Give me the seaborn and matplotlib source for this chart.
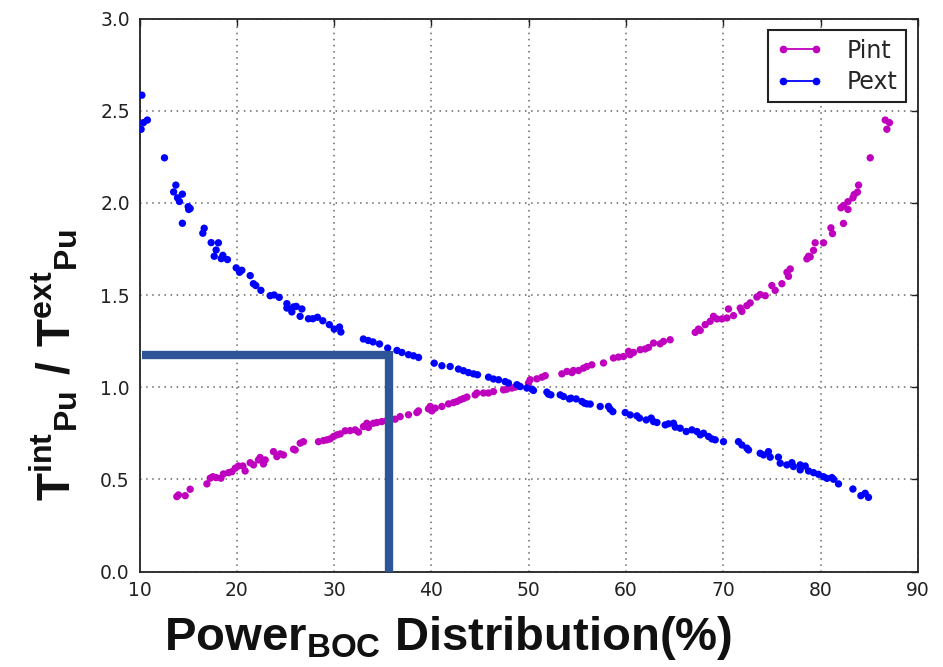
import numpy as np
import pandas as pd
import seaborn as sns
import matplotlib
matplotlib.use("Agg")
import matplotlib.pyplot as plt
from matplotlib.lines import Line2D
from matplotlib import font_manager as fm

# ---------------- data ----------------
pint_x = [13.83, 14.00, 14.69, 15.20, 16.92, 17.26, 17.53, 17.87, 18.36, 18.62, 19.14, 19.49,
          19.83, 20.16, 20.62, 20.85, 21.37, 21.71, 22.22, 22.39, 22.73, 22.91, 23.76, 24.11,
          24.45, 24.79, 25.82, 25.99, 26.51, 26.84, 28.39, 28.90, 29.25, 29.59, 29.93, 30.28,
          30.62, 31.13, 31.64, 32.16, 32.50, 33.01, 33.36, 33.52, 34.04, 34.39, 34.90, 35.42,
          36.27, 36.78, 37.64, 38.50, 38.66, 39.69, 39.87, 40.04, 40.38, 41.07, 41.75, 42.26,
          42.61, 42.95, 43.29, 43.64, 44.49, 44.67, 45.34, 45.86, 46.37, 47.40, 47.75, 48.26,
          48.60, 48.94, 49.97, 50.14, 50.83, 51.35, 51.69, 53.40, 53.92, 54.43, 54.59, 55.11,
          55.62, 55.97, 56.48, 57.68, 58.70, 59.22, 59.73, 60.25, 60.42, 60.76, 61.45, 61.96,
          62.30, 62.82, 63.50, 63.84, 64.53, 67.10, 67.44, 67.62, 68.13, 68.64, 68.98, 69.33,
          69.85, 70.36, 70.52, 71.04, 71.73, 71.90, 72.41, 72.75, 73.44, 73.78, 74.30, 74.98,
          75.32, 76.01, 76.53, 76.69, 76.87, 78.58, 78.75, 78.92, 79.26, 79.43, 80.29, 81.05,
          81.21, 82.08, 82.34, 82.34, 82.80, 82.80, 83.31, 83.44, 83.78, 83.89, 85.09, 86.63,
          86.80, 87.07]
pint_y = [0.407, 0.416, 0.412, 0.447, 0.476, 0.507, 0.515, 0.510, 0.507, 0.530, 0.537, 0.542,
          0.561, 0.573, 0.573, 0.546, 0.591, 0.579, 0.606, 0.619, 0.584, 0.606, 0.651, 0.624,
          0.639, 0.633, 0.664, 0.660, 0.697, 0.705, 0.705, 0.711, 0.715, 0.720, 0.733, 0.742,
          0.747, 0.764, 0.765, 0.769, 0.757, 0.787, 0.805, 0.782, 0.805, 0.809, 0.814, 0.820,
          0.827, 0.841, 0.851, 0.863, 0.872, 0.883, 0.896, 0.872, 0.887, 0.896, 0.910, 0.917,
          0.923, 0.932, 0.939, 0.947, 0.959, 0.969, 0.969, 0.969, 0.977, 0.986, 0.990, 0.996,
          1.001, 1.008, 1.023, 1.041, 1.046, 1.055, 1.063, 1.073, 1.086, 1.080, 1.091, 1.091,
          1.104, 1.113, 1.122, 1.132, 1.159, 1.164, 1.167, 1.195, 1.177, 1.189, 1.204, 1.208,
          1.216, 1.240, 1.236, 1.249, 1.258, 1.298, 1.316, 1.309, 1.340, 1.358, 1.385, 1.371,
          1.371, 1.376, 1.425, 1.389, 1.430, 1.412, 1.443, 1.458, 1.490, 1.503, 1.497, 1.552,
          1.526, 1.562, 1.624, 1.602, 1.642, 1.697, 1.711, 1.708, 1.743, 1.784, 1.784, 1.865,
          1.834, 1.974, 1.986, 1.889, 1.965, 2.007, 2.028, 2.046, 2.059, 2.097, 2.245, 2.450,
          2.400, 2.436]

pext_x = [10.16, 10.24, 10.40, 10.80, 12.56, 13.50, 13.73, 13.90, 14.10, 14.40, 14.40, 15.00,
          15.05, 15.20, 16.50, 16.64, 17.36, 17.67, 17.87, 18.10, 18.39, 18.56, 19.03, 19.93,
          20.27, 20.51, 21.37, 21.70, 21.95, 22.47, 23.42, 23.83, 24.35, 25.14, 25.14, 25.65,
          25.82, 26.10, 26.50, 26.68, 27.36, 27.80, 28.28, 28.83, 29.50, 30.00, 30.55, 30.69,
          33.00, 33.50, 34.00, 34.66, 35.50, 36.45, 36.96, 37.64, 38.15, 38.67, 40.28, 41.07,
          41.92, 42.77, 43.29, 43.80, 44.32, 44.73, 45.86, 46.37, 46.89, 47.57, 47.91, 48.78,
          49.12, 49.80, 50.32, 50.48, 51.86, 52.02, 52.27, 53.23, 53.57, 54.18, 54.33, 54.87,
          55.46, 55.72, 55.97, 56.31, 57.34, 58.19, 58.37, 58.64, 59.91, 60.42, 61.11, 61.38,
          62.07, 62.58, 62.82, 63.17, 64.02, 64.36, 64.87, 65.05, 65.56, 66.18, 66.76, 67.28,
          67.62, 67.96, 68.47, 68.82, 69.16, 70.01, 71.55, 71.90, 72.41, 72.58, 73.78, 74.12,
          74.63, 74.81, 75.66, 75.84, 76.52, 77.04, 77.20, 77.89, 77.89, 78.41, 78.75, 79.26,
          79.77, 80.29, 80.64, 81.15, 81.32, 81.83, 83.31, 84.13, 84.57, 84.91]
pext_y = [2.400, 2.585, 2.436, 2.450, 2.245, 2.060, 2.097, 2.028, 2.008, 2.048, 1.890, 1.980,
          1.965, 1.970, 1.836, 1.863, 1.785, 1.711, 1.745, 1.784, 1.698, 1.716, 1.693, 1.648,
          1.624, 1.635, 1.606, 1.562, 1.552, 1.526, 1.497, 1.501, 1.488, 1.454, 1.430, 1.409,
          1.436, 1.439, 1.385, 1.425, 1.372, 1.372, 1.380, 1.361, 1.340, 1.316, 1.327, 1.300,
          1.262, 1.254, 1.246, 1.235, 1.213, 1.200, 1.189, 1.177, 1.171, 1.162, 1.131, 1.117,
          1.113, 1.099, 1.090, 1.080, 1.073, 1.068, 1.055, 1.045, 1.041, 1.031, 1.023, 1.014,
          1.004, 0.996, 0.990, 0.983, 0.974, 0.963, 0.959, 0.959, 0.950, 0.937, 0.941, 0.937,
          0.923, 0.914, 0.910, 0.909, 0.896, 0.896, 0.881, 0.868, 0.863, 0.850, 0.845, 0.833,
          0.823, 0.833, 0.814, 0.809, 0.796, 0.802, 0.805, 0.784, 0.778, 0.760, 0.769, 0.760,
          0.742, 0.751, 0.733, 0.720, 0.715, 0.705, 0.705, 0.687, 0.670, 0.660, 0.642, 0.633,
          0.651, 0.621, 0.621, 0.588, 0.579, 0.591, 0.570, 0.579, 0.552, 0.573, 0.546, 0.537,
          0.528, 0.515, 0.506, 0.510, 0.501, 0.476, 0.448, 0.412, 0.425, 0.403]

series_names = ["Pint", "Pext"]
series_colors = {"Pint": "#BF00BF", "Pext": "#0000FF"}
x_ticks = [10, 20, 30, 40, 50, 60, 70, 80, 90]
y_ticks = [0.0, 0.5, 1.0, 1.5, 2.0, 2.5, 3.0]
marker_x = 35.62   # highlighted operating point
marker_y = 1.175
guide_color = "#2E5597"

df = pd.concat([
    pd.DataFrame({"x": pint_x, "y": pint_y, "series": "Pint"}),
    pd.DataFrame({"x": pext_x, "y": pext_y, "series": "Pext"}),
], ignore_index=True)

# ---------------- style ----------------
sns.set_style("white")
names = {f.name for f in fm.fontManager.ttflist}
narrow = "Liberation Sans Narrow" if "Liberation Sans Narrow" in names else "Liberation Sans"
plt.rcParams["font.family"] = ["DejaVu Sans"]
plt.rcParams["mathtext.fontset"] = "custom"
plt.rcParams["mathtext.bf"] = "Liberation Sans:bold"
plt.rcParams["mathtext.rm"] = "Liberation Sans:bold"
plt.rcParams["mathtext.sf"] = narrow + ":bold"

fig = plt.figure(figsize=(9.43, 6.67), dpi=100)
ax = fig.add_axes([0.148, 0.143, 0.9735 - 0.148, 0.972 - 0.143])

sns.scatterplot(data=df, x="x", y="y", hue="series", hue_order=series_names,
                palette=series_colors, s=28, linewidth=0, legend=False, ax=ax, zorder=3)

# guide lines to the operating point
ax.plot([10.3, marker_x + 0.2], [marker_y, marker_y], color=guide_color, lw=6,
        solid_capstyle="butt", zorder=4)
ax.plot([marker_x, marker_x], [marker_y + 0.02, 0.0], color=guide_color, lw=6,
        solid_capstyle="butt", zorder=4)

ax.set_xlim(10, 90)
ax.set_ylim(0, 3)
ax.set_xticks(x_ticks)
ax.set_yticks(y_ticks)
ax.set_xticklabels([str(t) for t in x_ticks])
ax.set_yticklabels([f"{t:.1f}" for t in y_ticks])
ax.tick_params(direction="in", top=True, right=True, length=5, width=1,
               labelsize=13.5, colors="#222222", pad=7)
for sp in ax.spines.values():
    sp.set_visible(True)
    sp.set_color("#222222")
    sp.set_linewidth(1.3)
ax.grid(True, color="#666666", linestyle=(0, (1, 3)), linewidth=1.1)
ax.set_axisbelow(True)

ax.set_xlabel("")
ax.set_ylabel("")
fig.text(0.475, 1 - 638 / 667, r"Power$_{\mathsf{BOC}}$ Distribution(%)",
         fontsize=34, fontweight="bold", family=narrow, ha="center", va="center",
         color="#111111")
fig.text(54 / 943, 1 - 365 / 667, r"$\mathbf{T^{int}{}_{Pu}\ /\ T^{ext}{}_{Pu}}$",
         fontsize=33, rotation=90, ha="center", va="center", color="#111111")

handles = [Line2D([], [], color=series_colors[n], marker=".", markersize=9, lw=1.3)
           for n in series_names]
leg = ax.legend(handles, series_names, loc="upper right", numpoints=2, fontsize=17,
                fancybox=False, framealpha=1, edgecolor="#222222", handlelength=2.0,
                handletextpad=1.0, borderpad=0.35, labelspacing=0.3)
leg.get_frame().set_linewidth(1.5)

fig.savefig("out.png", dpi=100)
